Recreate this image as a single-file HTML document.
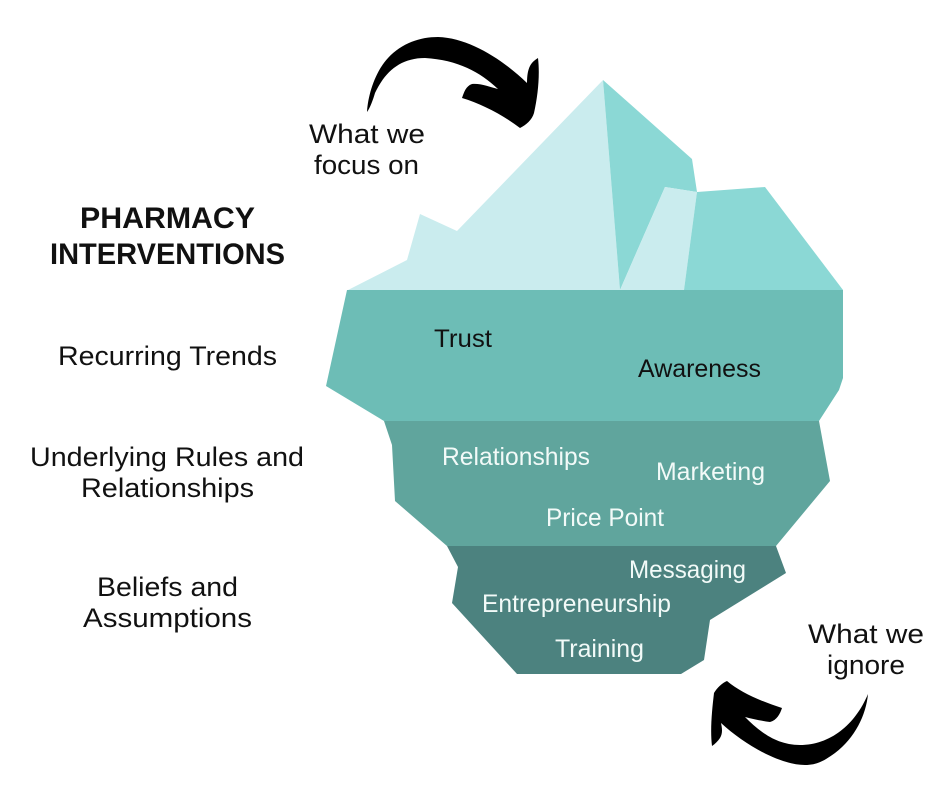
<!DOCTYPE html>
<html>
<head>
<meta charset="utf-8">
<style>
html,body{margin:0;padding:0;background:#fff;width:940px;height:788px;overflow:hidden}
svg{display:block}
text{font-family:"Liberation Sans",sans-serif}
.l{font-size:27px;fill:#111}
.m{font-size:25px;fill:#111}
.w{font-size:25px;fill:#f2faf8}
.b{font-size:30px;font-weight:bold;fill:#111}
</style>
</head>
<body>
<svg width="940" height="788" viewBox="0 0 940 788" xmlns="http://www.w3.org/2000/svg">
<rect width="940" height="788" fill="#fff"/>
<polygon points="348,290 407,260 420,214 457,231 603,80 620,290" fill="#caecee"/>
<polygon points="603,80 692,159 697,192 665,187 620,290" fill="#8bd8d5"/>
<polygon points="665,187 697,192 684,290 620,290" fill="#caecee"/>
<polygon points="697,192 765,187 843,290 684,290" fill="#8bd8d5"/>
<polygon points="347,290 843,290 843,378 839,390 819,421 384,421 326,386" fill="#6dbdb6"/>
<polygon points="384,421 819,421 830,481 776,546 447,546 395,501 392,445" fill="#60a59d"/>
<polygon points="447,546 776,546 786,573 710,620 704,660 681,674 517,674 452,603 458,567" fill="#4c827f"/>

<path d="M367,112 C368,95 375,72 388,58 C402,43 420,37 438,37 C470,38 503,60 527,83 C527,75 528,70 530,66 C532,62 535,60 538,58 C540,75 538,95 534,113 C532,120 526,125 520,128 C503,115 482,104 462,98 C464,92 466,86 472,84 C480,83 490,87 498,89 C480,72 458,60 425,58 C400,58 385,72 375,93 C373,100 370,108 367,112 Z" fill="#000"/>
<path d="M868,694 C866,715 855,738 835,753 C825,760 818,765 805,765 C780,765 745,745 721,723 C722,728 723,733 720,738 C718,741 715,744 712,746 C710,730 712,710 714,693 C717,688 722,683 727,681 C740,692 760,701 782,708 C780,714 777,720 770,722 C762,721 753,719 745,717 C758,730 775,745 800,745 C830,745 855,725 868,694 Z" fill="#000"/>

<text class="l" x="309" y="143" textLength="116" lengthAdjust="spacingAndGlyphs">What we</text>
<text class="l" x="314" y="174" textLength="105" lengthAdjust="spacingAndGlyphs">focus on</text>
<text class="b" x="80" y="228" textLength="175" lengthAdjust="spacingAndGlyphs">PHARMACY</text>
<text class="b" x="50" y="264" textLength="235" lengthAdjust="spacingAndGlyphs">INTERVENTIONS</text>
<text class="l" x="58" y="365" textLength="219" lengthAdjust="spacingAndGlyphs">Recurring Trends</text>
<text class="l" x="30" y="466" textLength="274" lengthAdjust="spacingAndGlyphs">Underlying Rules and</text>
<text class="l" x="81" y="497" textLength="173" lengthAdjust="spacingAndGlyphs">Relationships</text>
<text class="l" x="97" y="596" textLength="141" lengthAdjust="spacingAndGlyphs">Beliefs and</text>
<text class="l" x="83" y="627" textLength="169" lengthAdjust="spacingAndGlyphs">Assumptions</text>
<text class="m" x="434" y="347" textLength="58" lengthAdjust="spacingAndGlyphs">Trust</text>
<text class="m" x="638" y="377" textLength="123" lengthAdjust="spacingAndGlyphs">Awareness</text>
<text class="w" x="442" y="465" textLength="148" lengthAdjust="spacingAndGlyphs">Relationships</text>
<text class="w" x="656" y="480" textLength="109" lengthAdjust="spacingAndGlyphs">Marketing</text>
<text class="w" x="546" y="526" textLength="118" lengthAdjust="spacingAndGlyphs">Price Point</text>
<text class="w" x="629" y="578" textLength="117" lengthAdjust="spacingAndGlyphs">Messaging</text>
<text class="w" x="482" y="612" textLength="189" lengthAdjust="spacingAndGlyphs">Entrepreneurship</text>
<text class="w" x="555" y="657" textLength="89" lengthAdjust="spacingAndGlyphs">Training</text>
<text class="l" x="808" y="643" textLength="116" lengthAdjust="spacingAndGlyphs">What we</text>
<text class="l" x="827" y="674" textLength="78" lengthAdjust="spacingAndGlyphs">ignore</text>
</svg>
</body>
</html>
